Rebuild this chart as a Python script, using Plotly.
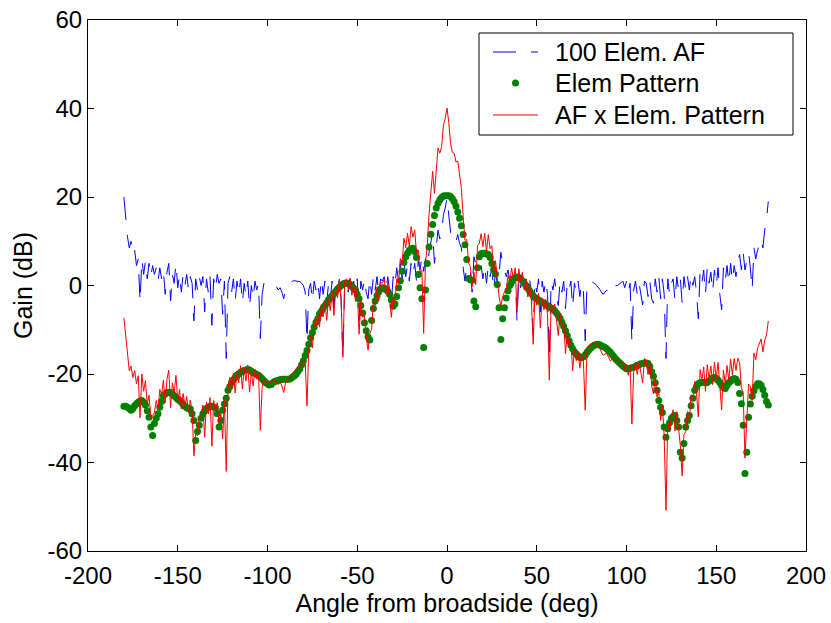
import plotly.graph_objects as go

# Observation angles, one sample per degree
angle_deg = list(range(-180, 180))

# Element pattern gain (dB), -180 .. 179 deg
elem_db = [
    -27.3, -27.3, -27.5, -27.8, -28.2, -27.8, -27.2, -26.7, -26.4, -26.1,   # -180
    -26.0, -26.4, -27.0, -28.3, -29.8, -32.0, -33.9, -31.2, -30.0, -29.0,   # -170
    -27.5, -26.2, -24.9, -24.5, -24.2, -24.1, -24.2, -24.5, -24.9, -25.3,   # -160
    -25.7, -26.0, -26.4, -26.9, -27.3, -27.6, -27.8, -27.9, -29.0, -30.5,   # -150
    -35.0, -33.0, -31.6, -30.0, -29.0, -28.3, -27.8, -27.5, -27.3, -27.3,   # -140
    -27.5, -27.6, -29.0, -32.0, -30.5, -28.2, -26.8, -25.5, -23.7, -22.8,   # -130
    -21.9, -21.3, -20.8, -20.3, -20.0, -19.6, -19.4, -19.2, -19.1, -19.0,   # -120
    -19.1, -19.4, -19.7, -19.9, -20.1, -20.3, -20.7, -21.1, -21.5, -21.9,   # -110
    -22.2, -22.5, -22.4, -22.0, -21.7, -21.5, -21.4, -21.3, -21.2, -21.2,   # -100
    -21.2, -21.2, -21.2, -21.0, -20.7, -20.4, -20.0, -19.4, -18.8, -17.9,   # -90
    -17.0, -15.8, -14.7, -13.3, -11.8, -10.6, -9.4, -8.3, -7.5, -6.4,       # -80
    -5.8, -5.1, -4.5, -3.9, -3.3, -2.7, -2.3, -1.8, -1.3, -0.8,             # -70
    -0.4, 0.0, 0.3, 0.5, 0.5, 0.5, 0.2, -0.2, -0.6, -1.1,                   # -60
    -2.0, -3.0, -4.5, -6.2, -8.4, -10.2, -11.6, -12.3, -7.9, -5.2,          # -50
    -3.5, -2.3, -1.4, -0.8, -0.5, -0.6, -0.9, -1.3, -2.0, -3.2,             # -40
    -4.7, -4.2, -2.5, -0.5, 1.1, 3.2, 5.2, 6.5, 7.3, 7.9,                   # -30
    8.3, 8.4, 7.6, 6.3, 2.5, -0.5, -3.0, -14.0, -1.0, 5.0,                  # -20
    8.7, 11.6, 13.8, 15.8, 17.5, 18.6, 19.4, 19.9, 20.2, 20.3,              # -10
    20.3, 20.3, 20.1, 19.6, 18.9, 17.9, 16.6, 15.2, 13.5, 11.5,             # 0
    9.2, 5.9, 1.6, 1.3, 1.2, -3.5, -4.8, 4.0, 6.5, 7.2,                     # 10
    7.3, 7.3, 7.2, 7.0, 6.3, 5.0, 3.6, 2.6, 0.2, -5.0,                      # 20
    -12.2, -7.5, -5.0, -2.8, -1.2, 0.0, 0.9, 1.5, 1.8, 1.9,                 # 30
    1.8, 1.5, 1.0, 0.5, 0.0, -0.6, -1.2, -1.8, -2.3, -2.7,                  # 40
    -3.0, -3.3, -3.6, -3.8, -4.0, -4.3, -4.6, -4.9, -5.1, -5.3,             # 50
    -5.7, -6.2, -6.8, -7.4, -8.3, -9.2, -10.2, -11.3, -12.5, -13.5,         # 60
    -14.3, -15.0, -15.5, -15.9, -16.2, -16.3, -16.1, -15.7, -15.1, -14.6,   # 70
    -14.2, -13.8, -13.5, -13.4, -13.3, -13.4, -13.6, -13.8, -14.0, -14.3,   # 80
    -14.7, -15.1, -15.6, -16.1, -16.6, -17.0, -17.4, -17.8, -18.2, -18.5,   # 90
    -18.8, -18.8, -18.7, -18.6, -18.5, -18.3, -18.1, -17.9, -17.7, -17.6,   # 100
    -17.5, -17.5, -17.6, -18.3, -19.5, -20.5, -22.0, -23.7, -26.0, -27.5,   # 110
    -28.7, -32.0, -34.3, -32.4, -31.0, -30.0, -29.6, -29.4, -30.5, -32.0,   # 120
    -37.7, -39.0, -35.7, -32.0, -30.5, -29.4, -27.2, -25.5, -23.7, -22.8,   # 130
    -22.2, -22.0, -21.9, -21.9, -21.9, -21.9, -21.6, -21.2, -20.9, -20.8,   # 140
    -21.0, -21.4, -21.9, -22.6, -23.1, -23.3, -22.6, -22.0, -21.6, -21.2,   # 150
    -21.0, -21.2, -21.9, -24.4, -26.7, -31.6, -42.5, -37.7, -29.8, -26.8,   # 160
    -25.0, -23.8, -22.8, -22.2, -22.2, -22.6, -23.5, -24.8, -26.2, -27.0,   # 170
]

# 100-element array factor (dB), -180 .. 179 deg
af_db = [
    20.0, 15.5, 11.0, 8.5, 10.0, 7.0, 8.0, 4.5, 6.0, -3.8,                  # -180
    6.0, 2.5, 5.5, 1.5, 5.0, 2.0, 4.5, 2.5, 4.0, 1.0,                       # -170
    4.0, 1.5, 3.5, -2.0, 3.0, 5.0, -3.5, 2.5, 0.5, 5.0,                     # -160
    -0.5, 2.5, -1.5, 2.5, 0.0, 2.5, -1.0, 2.0, 0.5, -8.0,                   # -150
    1.5, -1.0, 2.0, 0.0, 2.0, -6.0, 1.5, -1.5, 2.0, -9.0,                   # -140
    1.5, -1.0, 2.5, 0.5, 1.5, -6.5, 1.0, -16.5, 0.5, 2.0,                   # -130
    -1.5, 1.5, -3.5, 1.0, -2.0, 1.5, -4.0, 0.5, -2.5, 1.0,                  # -120
    -5.0, 0.0, -3.0, 1.0, -1.0, 0.5, -12.0, -2.0, 0.5, 0.0,                 # -110
    0.2, 0.4, 0.5, 0.5, 0.3, -0.3, -1.0, -0.5, -1.5, -3.0,                  # -100
    -1.0, 0.0, 0.5, 0.8, 1.0, 1.1, 1.0, 0.9, 0.9, 0.5,                      # -90
    0.0, -1.5, -12.5, -1.0, 0.5, -3.5, 1.0, -1.0, 1.0, -3.0,                # -80
    1.5, -2.0, 1.0, -4.0, 0.5, -3.0, 1.0, -5.0, 0.5, -2.0,                  # -70
    1.5, -3.0, -16.5, 0.5, 1.0, -1.5, 1.5, -2.0, 1.0, -2.5,                 # -60
    1.5, -8.0, 1.0, -1.0, 1.5, -1.5, -3.0, 1.5, -2.0, 2.0,                  # -50
    -1.0, 2.0, -2.0, 1.5, 1.0, 2.0, -1.0, 2.0, -1.5, -4.0,                  # -40
    2.0, 0.0, 4.0, 1.0, 5.0, 1.5, 5.5, 2.0, 4.5, 1.0,                       # -30
    5.0, 2.5, 5.0, 1.0, 5.5, 3.5, 6.5, 3.2, 6.0, 4.0,                       # -20
    7.5, 9.5, 12.0, 5.0, 9.0, 12.5, 10.5, 11.5, 16.0, 17.5,                 # -10
    19.8, 16.5, 12.0, 10.5, 11.0, 10.0, 11.5, 9.5, 8.5, 4.0,                # 0
    1.0, 4.5, 3.5, 3.0, -1.5, 6.5, 5.0, 5.0, 3.0, 4.5,                      # 10
    1.5, 4.5, 0.5, 4.5, 2.0, 4.0, -1.0, 3.0, 0.5, 2.5,                      # 20
    7.5, 5.0, 3.5, 2.0, 3.5, 1.0, 3.0, 0.0, 2.2, -8.0,                      # 30
    2.0, -0.5, 2.0, -1.5, 1.5, -2.0, 1.5, -1.5, -11.0, 1.0,                 # 40
    -1.5, 1.5, -6.0, 1.0, -1.5, 1.2, -2.0, -16.5, 1.0, -1.0,                # 50
    1.5, -2.5, -4.5, 1.0, -1.5, 1.0, -5.2, 0.5, -1.0, 1.0,                  # 60
    -5.0, 0.5, -1.5, 1.0, -2.5, 0.5, -1.0, -12.5, 0.6, 1.0,                 # 70
    1.0, 0.8, 0.5, 0.2, -0.2, -0.8, -1.5, -2.0, -1.5, -1.0,                 # 80
    -1.5, -2.0, -1.0, -0.5, 0.0, 0.0, 0.3, 0.5, 1.0, -0.5,                  # 90
    1.0, -1.5, 0.5, -12.7, -1.0, 1.0, -2.0, 0.5, -2.0, -4.4,                # 100
    1.0, 0.5, -2.5, 1.0, -3.0, -4.0, 1.5, -1.5, 2.0, -3.0,                  # 110
    1.5, -2.0, -16.5, 1.5, -2.0, 0.5, 1.5, -3.5, 2.0, -1.0,                 # 120
    1.5, -4.0, 2.0, -1.0, 2.0, -1.0, 2.5, 0.0, 2.0, -1.5,                   # 130
    -7.5, 3.0, 0.5, 3.5, -2.0, 4.0, 0.5, 3.0, -1.5, 3.5,                    # 140
    0.0, 4.0, -2.0, -5.5, 4.0, 1.0, 4.5, 0.5, 5.0, 1.0,                     # 150
    4.5, 2.0, 5.5, 7.0, 3.5, 7.5, 3.5, 6.0, 7.5, 4.0,                       # 160
    -1.0, 8.5, 6.0, 8.0, 9.0, 10.5, 8.5, 12.5, 15.0, 19.0,                  # 170
]

# Total pattern: array factor times element pattern, i.e. a sum in dB
product_db = [a + e for a, e in zip(af_db, elem_db)]

x_ticks = [-200, -150, -100, -50, 0, 50, 100, 150, 200]
x_tick_labels = ["-200", "-150", "-100", "-50", "0", "50", "100", "150", "200"]
y_ticks = [-60, -40, -20, 0, 20, 40, 60]
y_tick_labels = ["-60", "-40", "-20", "0", "20", "40", "60"]

series_names = ["100 Elem. AF", "Elem Pattern", "AF x Elem. Pattern"]
series_colors = ["#0000ff", "#008000", "#ff0000"]
AF_DASH = "23px,15px"

FONT = "Liberation Sans, Arial, Helvetica, sans-serif"
TICK_FS = 24
TEXT_FS = 25

# Plot-area geometry in pixels (used to place the boxed key in paper units)
W, H = 831, 623
ML, MR, MT, MB = 88, 25, 20, 72
PW, PH = W - ML - MR, H - MT - MB


def px(x):
    return (x - ML) / PW


def py(y):
    return (H - MB - y) / PH


fig = go.Figure()
fig.add_trace(go.Scatter(
    x=angle_deg, y=af_db, mode="lines", name=series_names[0], showlegend=False,
    line=dict(color=series_colors[0], width=1, dash=AF_DASH),
))
fig.add_trace(go.Scatter(
    x=angle_deg, y=elem_db, mode="markers", name=series_names[1], showlegend=False,
    marker=dict(color=series_colors[1], size=7, line=dict(width=0)),
))
fig.add_trace(go.Scatter(
    x=angle_deg, y=product_db, mode="lines", name=series_names[2], showlegend=False,
    line=dict(color=series_colors[2], width=1),
))

# Boxed key in the upper right corner
box_l, box_r, box_t, box_b = 479, 793, 33, 135
row_y = [52, 83, 115]
sample_l, sample_r, text_x = 493, 538, 553
shapes = [
    dict(type="rect", xref="paper", yref="paper",
         x0=px(box_l), x1=px(box_r), y0=py(box_b), y1=py(box_t),
         line=dict(color="black", width=1), fillcolor="white", layer="above"),
    dict(type="line", xref="paper", yref="paper",
         x0=px(sample_l), x1=px(sample_r), y0=py(row_y[0]), y1=py(row_y[0]),
         line=dict(color=series_colors[0], width=1, dash=AF_DASH), layer="above"),
    dict(type="circle", xref="paper", yref="paper",
         x0=px((sample_l + sample_r) / 2 - 3.5), x1=px((sample_l + sample_r) / 2 + 3.5),
         y0=py(row_y[1] + 3.5), y1=py(row_y[1] - 3.5),
         fillcolor=series_colors[1], line=dict(width=0), layer="above"),
    dict(type="line", xref="paper", yref="paper",
         x0=px(sample_l), x1=px(sample_r), y0=py(row_y[2]), y1=py(row_y[2]),
         line=dict(color=series_colors[2], width=1), layer="above"),
]
annotations = [
    dict(xref="paper", yref="paper", x=px(text_x), y=py(ry), text=name,
         xanchor="left", yanchor="middle", showarrow=False,
         font=dict(family=FONT, size=TEXT_FS, color="black"))
    for name, ry in zip(series_names, row_y)
]

axis_common = dict(
    showline=True, linecolor="black", linewidth=1, mirror="ticks",
    ticks="inside", ticklen=6, tickcolor="black", tickwidth=1,
    showgrid=False, zeroline=False, automargin=False,
    tickfont=dict(family=FONT, size=TICK_FS, color="black"),
)

fig.update_layout(
    width=W, height=H,
    margin=dict(l=ML, r=MR, t=MT, b=MB),
    paper_bgcolor="white", plot_bgcolor="white",
    font=dict(family=FONT, size=TICK_FS, color="black"),
    xaxis=dict(
        range=[-200, 200], tickvals=x_ticks, ticktext=x_tick_labels,
        ticklabelstandoff=3,
        title=dict(text="Angle from broadside (deg)",
                   font=dict(family=FONT, size=TEXT_FS), standoff=2),
        **axis_common,
    ),
    yaxis=dict(
        range=[-60, 60], tickvals=y_ticks, ticktext=y_tick_labels,
        title=dict(text="Gain (dB)", font=dict(family=FONT, size=TEXT_FS), standoff=7),
        **axis_common,
    ),
    shapes=shapes,
    annotations=annotations,
    showlegend=False,
)

fig.write_html("out.html")
